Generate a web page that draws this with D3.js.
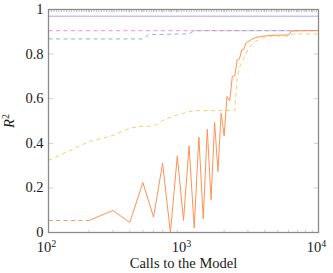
<!DOCTYPE html>
<html>
<head>
<meta charset="utf-8">
<script src="https://cdn.jsdelivr.net/npm/d3@7"></script>
<style>
  body { margin: 0; background: #fff; }
  svg text { font-family: 'Liberation Serif', 'DejaVu Serif', serif; fill: #1a1a1a; }
</style>
</head>
<body>
<svg id="chart" width="333" height="273"></svg>
<script>
// calls to the model and R^2 values
const orangeCalls = [200, 300, 400, 500, 600, 700, 800, 900, 1000, 1100, 1200, 1300, 1400, 1500, 1600, 1700, 1800, 1900, 2000,
  2100, 2200, 2300, 2400, 2500, 2600, 2700, 2800, 2900, 3000, 3200, 3400, 3800, 4300, 5000, 6000, 6300, 7000, 10000];
const orangeR2 = [0.054, 0.099, 0.045, 0.224, 0.069, 0.31, 0.0, 0.344, 0.054, 0.389, 0.02, 0.428, 0.062, 0.463, 0.147, 0.493, 0.273, 0.535, 0.433,
  0.61, 0.59, 0.70, 0.703, 0.775, 0.779, 0.819, 0.823, 0.849, 0.856, 0.866, 0.874, 0.88, 0.883, 0.885, 0.886, 0.903, 0.905, 0.906];

const orangeStartCalls = [100, 200];
const orangeStartR2 = [0.054, 0.054];

const yellowCalls = [100, 200, 300, 400, 500, 600, 700, 800, 900, 1000, 1100, 1200, 2400,
  2500, 2600, 2700, 2800, 2900, 3000, 3200, 3400, 3800, 4300, 6000, 6500, 10000];
const yellowR2 = [0.323, 0.408, 0.435, 0.468, 0.477, 0.476, 0.502, 0.517, 0.527, 0.535, 0.542, 0.546, 0.547,
  0.70, 0.74, 0.765, 0.78, 0.80, 0.82, 0.84, 0.856, 0.871, 0.881, 0.881, 0.89, 0.89];

const blueCalls = [100, 500, 550, 1100, 1200, 10000];
const blueR2 = [0.868, 0.868, 0.887, 0.891, 0.905, 0.905];

const pinkCalls = [100, 10000];
const pinkR2 = [0.905, 0.905];

const lavenderCalls = [100, 10000];
const lavenderR2 = [0.97, 0.97];

const blackCalls = [100, 10000];
const blackR2 = [0.993, 0.993];

const yTicks = [0, 0.2, 0.4, 0.6, 0.8, 1];
const yTickLabels = ['0', '0.2', '0.4', '0.6', '0.8', '1'];
const xTicks = [100, 1000, 10000];
const xTickExp = ['2', '3', '4'];

var svg = d3.select('#chart');
var pLeft = 48.5, pRight = 318.5, pTop = 9.5, pBottom = 232.5;

var x = d3.scaleLog().domain([100, 10000]).range([pLeft, pRight]);
var y = d3.scaleLinear().domain([0, 1]).range([pBottom, pTop]);

var minor = [];
[100, 1000].forEach(function (b) { for (var k = 2; k <= 9; k++) minor.push(b * k); });

// ticks (inward)
var g = svg.append('g');
g.selectAll('.xminB').data(minor).enter().append('line')
  .attr('x1', d => x(d)).attr('x2', d => x(d))
  .attr('y1', pBottom).attr('y2', pBottom - 3)
  .attr('stroke', '#c8c8c8').attr('stroke-width', 0.8);
g.selectAll('.xminT').data(minor).enter().append('line')
  .attr('x1', d => x(d)).attr('x2', d => x(d))
  .attr('y1', pTop).attr('y2', pTop + 3)
  .attr('stroke', '#c8c8c8').attr('stroke-width', 0.8);
g.selectAll('.yTk').data(yTicks).enter().append('line')
  .attr('x1', pLeft).attr('x2', pLeft + 5)
  .attr('y1', d => y(d)).attr('y2', d => y(d))
  .attr('stroke', '#c8c8c8').attr('stroke-width', 0.8);
g.selectAll('.yTkR').data(yTicks).enter().append('line')
  .attr('x1', pRight).attr('x2', pRight - 5)
  .attr('y1', d => y(d)).attr('y2', d => y(d))
  .attr('stroke', '#c8c8c8').attr('stroke-width', 0.8);

function drawLine(xs, ys, color, width, dash) {
  var pts = xs.map((c, i) => [c, ys[i]]);
  svg.append('path')
    .attr('d', d3.line().x(d => x(d[0])).y(d => y(d[1]))(pts))
    .attr('fill', 'none')
    .attr('stroke', color)
    .attr('stroke-width', width)
    .attr('stroke-dasharray', dash);
}

drawLine(blackCalls, blackR2, '#666', 0.8, '1,1.5');
drawLine(lavenderCalls, lavenderR2, '#aaa4ee', 1, null);
drawLine(pinkCalls, pinkR2, '#f4a8d0', 1.2, '4,3.5');
drawLine(blueCalls, blueR2, '#8aa2e8', 0.9, '4,3.5');
drawLine(yellowCalls, yellowR2, '#ffcc66', 1, '4,3.5');
drawLine(orangeStartCalls, orangeStartR2, '#ff9255', 1, '4,3.5');
drawLine(orangeCalls, orangeR2, '#ff9255', 1, null);

// frame
svg.append('rect')
  .attr('x', pLeft).attr('y', pTop)
  .attr('width', pRight - pLeft).attr('height', pBottom - pTop)
  .attr('fill', 'none').attr('stroke', '#8a8a8a').attr('stroke-width', 1.3);

// tick labels
svg.selectAll('.yl').data(yTicks).enter().append('text')
  .attr('x', pLeft - 5).attr('y', d => y(d) + 4.5)
  .attr('text-anchor', 'end').attr('font-size', 14.5)
  .text((d, i) => yTickLabels[i]);

var xl = svg.selectAll('.xl').data(xTicks).enter().append('text')
  .attr('x', d => x(d) - 2).attr('y', pBottom + 19.5)
  .attr('text-anchor', 'middle').attr('font-size', 14.5);
xl.append('tspan').text('10');
xl.append('tspan').attr('dy', -5).attr('font-size', 10).text((d, i) => xTickExp[i]);

svg.append('text')
  .attr('x', (pLeft + pRight) / 2).attr('y', 268)
  .attr('text-anchor', 'middle').attr('font-size', 14.5)
  .text('Calls to the Model');

var yt = svg.append('text')
  .attr('transform', 'translate(14,' + ((pTop + pBottom) / 2) + ') rotate(-90)')
  .attr('text-anchor', 'middle').attr('font-size', 14.5).attr('font-style', 'italic');
yt.append('tspan').text('R');
yt.append('tspan').attr('dy', -5.5).attr('font-size', 10).attr('font-style', 'normal').text('2');
</script>
</body>
</html>
